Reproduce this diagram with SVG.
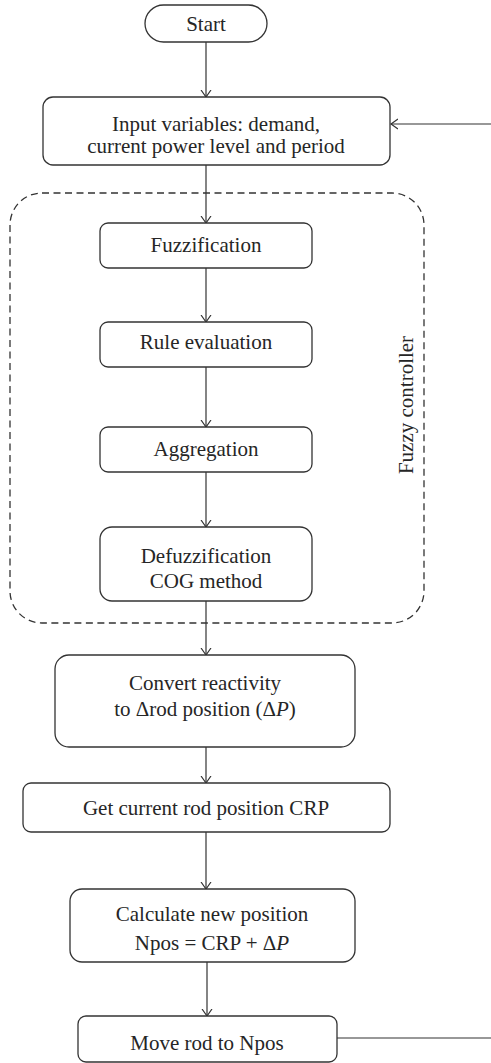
<svg xmlns="http://www.w3.org/2000/svg" width="491" height="1063" viewBox="0 0 491 1063">
<style>
.box{fill:#fff;stroke:#333;stroke-width:1.3}
.t{font-family:'Liberation Serif','Times New Roman',serif;font-size:21px;fill:#262626;text-anchor:middle}
.c{stroke:#333;stroke-width:1.2;fill:none}
</style>
<defs>
<marker id="ah" markerUnits="userSpaceOnUse" markerWidth="14" markerHeight="14" refX="7" refY="7" orient="auto" viewBox="0 0 14 14">
<path d="M0,2 L7,7 L0,12" fill="none" stroke="#333" stroke-width="1.2"/>
</marker>
</defs>
<g id="fuzzy-controller">
<rect x="10" y="193" width="414" height="430" rx="32" fill="none" stroke="#333" stroke-width="1.3" stroke-dasharray="7 4.5"/>
<text class="t" transform="translate(413,405) rotate(-90)" font-size="20">Fuzzy controller</text>
</g>
<g id="connectors">
<line class="c" x1="206" y1="42" x2="206" y2="97" marker-end="url(#ah)"/>
<line class="c" x1="491" y1="124" x2="391" y2="124" marker-end="url(#ah)"/>
<line class="c" x1="206" y1="165" x2="206" y2="223" marker-end="url(#ah)"/>
<line class="c" x1="206" y1="268" x2="206" y2="322" marker-end="url(#ah)"/>
<line class="c" x1="206" y1="367" x2="206" y2="427" marker-end="url(#ah)"/>
<line class="c" x1="206" y1="472" x2="206" y2="527" marker-end="url(#ah)"/>
<line class="c" x1="206" y1="601" x2="206" y2="655" marker-end="url(#ah)"/>
<line class="c" x1="206" y1="747" x2="206" y2="783" marker-end="url(#ah)"/>
<line class="c" x1="206" y1="832" x2="206" y2="889" marker-end="url(#ah)"/>
<line class="c" x1="207" y1="962" x2="207" y2="1016" marker-end="url(#ah)"/>
<line class="c" x1="337" y1="1038" x2="491" y2="1038"/>
</g>
<g id="start">
<rect class="box" x="145" y="5" width="122" height="37" rx="18.5"/>
<text class="t" x="206" y="31">Start</text>
</g>
<g id="input">
<rect class="box" x="43" y="97" width="347" height="68" rx="10"/>
<text class="t" x="216" y="131">Input variables: demand,</text>
<text class="t" x="216" y="153">current power level and period</text>
</g>
<g id="fuzzification">
<rect class="box" x="100" y="223" width="212" height="45" rx="8"/>
<text class="t" x="206" y="252">Fuzzification</text>
</g>
<g id="rule-evaluation">
<rect class="box" x="100" y="322" width="212" height="45" rx="8"/>
<text class="t" x="206" y="349">Rule evaluation</text>
</g>
<g id="aggregation">
<rect class="box" x="100" y="427" width="212" height="45" rx="8"/>
<text class="t" x="206" y="456">Aggregation</text>
</g>
<g id="defuzzification">
<rect class="box" x="100" y="527" width="212" height="74" rx="12"/>
<text class="t" x="206" y="563">Defuzzification</text>
<text class="t" x="206" y="588">COG method</text>
</g>
<g id="convert">
<rect class="box" x="55" y="655" width="300" height="92" rx="14"/>
<text class="t" x="205" y="690">Convert reactivity</text>
<text class="t" x="205" y="716">to Δrod position (Δ<tspan font-style="italic">P</tspan>)</text>
</g>
<g id="get-crp">
<rect class="box" x="23" y="783" width="367" height="49" rx="8"/>
<text class="t" x="206" y="815">Get current rod position CRP</text>
</g>
<g id="calculate">
<rect class="box" x="70" y="889" width="285" height="73" rx="12"/>
<text class="t" x="212" y="921">Calculate new position</text>
<text class="t" x="212" y="950">Npos = CRP + Δ<tspan font-style="italic">P</tspan></text>
</g>
<g id="move">
<rect class="box" x="78" y="1016" width="259" height="46" rx="8"/>
<text class="t" x="207" y="1050">Move rod to Npos</text>
</g>
</svg>
